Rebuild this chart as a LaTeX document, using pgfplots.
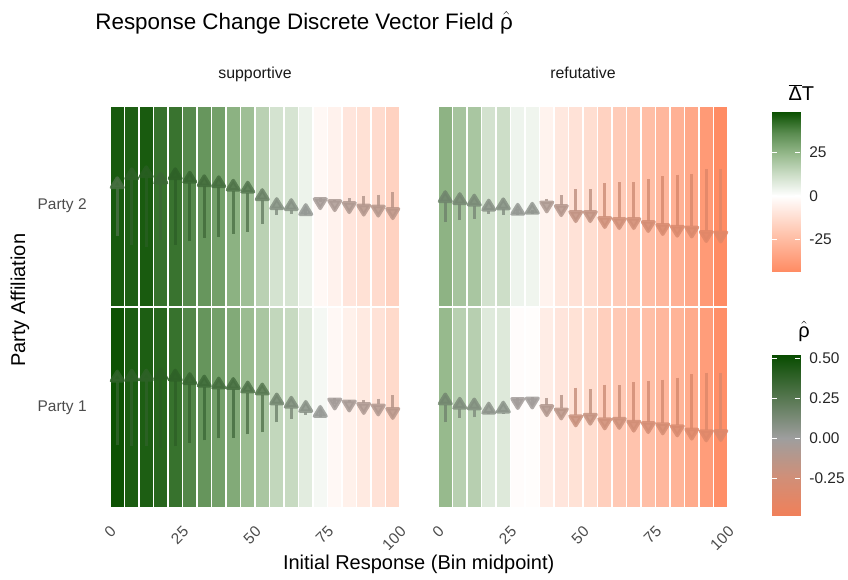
\documentclass[border=0pt]{standalone}
\usepackage{pgfplots}
\usepackage{pgfplotstable}
\pgfplotsset{compat=1.18}
\usepackage{fontspec}
\setmainfont{Liberation Sans}
\usetikzlibrary{arrows.meta}

\pgfplotsset{
  /pgf/number format/assume math mode=true,
  colormap={dtmap}{rgb255(0pt)=(255,140,100); rgb255(22pt)=(255,198,176); rgb255(43pt)=(255,255,255); rgb255(55pt)=(205,222,200); rgb255(67pt)=(150,185,140); rgb255(79pt)=(90,140,80); rgb255(91pt)=(10,80,0)},
  colormap={rhomap}{rgb255(0pt)=(240,128,90); rgb255(24pt)=(208,143,120); rgb255(48pt)=(158,158,158); rgb255(74pt)=(84,118,78); rgb255(100pt)=(8,76,0)},
  frame/.style={scale only axis, width=217.5pt, height=149.3pt,
    xmin=0, xmax=100, ymin=-0.5, ymax=0.5, clip=false},
  panel/.style={frame,
    axis line style={draw=none}, major tick length=0pt,
    xtick={0,25,50,75,100}, ytick={0},
    tick label style={font=\fontsize{11.6}{13}\selectfont, text=black!70},
    yticklabel style={xshift=-14pt},
    xticklabel style={anchor=north east, xshift=-0.5pt, yshift=-8.7pt, rotate=45},
    clip marker paths=true,
    colormap name=dtmap, point meta min=-43, point meta max=48,
  },
  arrowpanel/.style={frame, hide axis, colormap name=rhomap, point meta min=-0.48, point meta max=0.52},
  strip/.style={title style={font=\fontsize{11.9}{13}\selectfont, text=black!90, anchor=base, at={(0.5,1)}, yshift=14.7pt}},
  tiles/.style={scatter, only marks, mark=tile, point meta=explicit, scatter/use mapped color={draw=none, fill=mapped color}},
  arrowsrho/.style={point meta=explicit, quiver={u=0, v=\thisrow{rho}, colored=mapped color,
      every arrow/.append style={line width=2.6pt, draw opacity=0.85, fill opacity=0.85, -{Triangle[width=12.5pt,length=11pt,round]}}}},
  cbar/.style={scale only axis, width=21pt, xmin=0, xmax=1, axis on top,
    axis line style={draw=none}, xtick=\empty, ytick pos=both, yticklabel pos=right, tick align=inside,
    major tick length=3.5pt, ytick style={draw=white, line width=0.6pt},
    yticklabel style={font=\fontsize{11.6}{13}\selectfont, text=black!85, anchor=west, xshift=3.5pt}},
}
\pgfdeclareplotmark{tile}{\pgfpathrectangle{\pgfpoint{-4.95pt}{-74.65pt}}{\pgfpoint{9.9pt}{149.3pt}}\pgfusepathqfill}

% columns: bin midpoint, mean change (Delta T), rho
\pgfplotstableread{
x dt rho
2.5 46 0.30
7.5 45 0.39
12.5 45.8 0.41
17.5 41.2 0.345
22.5 41 0.39
27.5 36.4 0.355
32.5 33.3 0.32
37.5 30.7 0.31
42.5 25.9 0.275
47.5 22 0.255
52.5 16.2 0.18
57.5 10.2 0.09
62.5 9.8 0.08
67.5 4.4 0.03
72.5 -2.6 -0.04
77.5 -4.9 -0.06
82.5 -9.4 -0.08
87.5 -11.2 -0.105
92.5 -13.1 -0.115
97.5 -16.5 -0.14
}\supTwo
\pgfplotstableread{
x dt rho
2.5 47.6 0.38
7.5 45.4 0.39
12.5 45.2 0.39
17.5 43.6 0.405
22.5 41.2 0.39
27.5 37 0.355
32.5 33.6 0.33
37.5 30.7 0.31
42.5 28 0.305
47.5 23 0.27
52.5 19.8 0.25
57.5 14.3 0.15
62.5 13.3 0.117
67.5 6.9 0.075
72.5 2.5 0.025
77.5 -2.6 -0.03
82.5 -5.2 -0.05
87.5 -7.9 -0.075
92.5 -10.5 -0.09
97.5 -13.8 -0.125
}\supOne
\pgfplotstableread{
x dt rho
2.5 25.6 0.16
7.5 20.4 0.14
12.5 19.8 0.125
17.5 10.5 0.075
22.5 12 0.088
27.5 4 0.033
32.5 3.6 0.043
37.5 -4.5 -0.073
42.5 -8.6 -0.11
47.5 -10.5 -0.17
52.5 -12.3 -0.17
57.5 -16.5 -0.23
62.5 -18.7 -0.24
67.5 -20.6 -0.24
72.5 -23.9 -0.27
77.5 -26.6 -0.30
82.5 -28.8 -0.317
87.5 -32.2 -0.325
92.5 -37.8 -0.37
97.5 -43 -0.375
}\refTwo
\pgfplotstableread{
x dt rho
2.5 23.7 0.15
7.5 16.5 0.107
12.5 16.8 0.10
17.5 7.6 0.058
22.5 8 0.068
27.5 -1.1 -0.025
32.5 -0.8 -0.02
37.5 -6.7 -0.097
42.5 -9.4 -0.13
47.5 -10.8 -0.2
52.5 -12.7 -0.183
57.5 -17.6 -0.23
62.5 -19.8 -0.225
67.5 -22 -0.253
72.5 -23.6 -0.267
77.5 -26.6 -0.28
82.5 -28 -0.30
87.5 -31.4 -0.333
92.5 -36.7 -0.35
97.5 -41.9 -0.347
}\refOne

\begin{document}
\begin{tikzpicture}
\useasboundingbox (0,0) rectangle (636pt,434.25pt);

% supportive, Party 2
\begin{axis}[panel, strip, at={(82.5pt,205pt)}, anchor=south west, xticklabels={}, yticklabels={Party 2}, title={supportive}]
\addplot[tiles] table[x=x, y expr=0, meta=dt] {\supTwo};
\end{axis}
\begin{axis}[arrowpanel, at={(82.5pt,205pt)}, anchor=south west]
\addplot[arrowsrho] table[x=x, y expr=-0.5*\thisrow{rho}, meta=rho] {\supTwo};
\end{axis}
% refutative, Party 2
\begin{axis}[panel, strip, at={(328.5pt,205pt)}, anchor=south west, xticklabels={}, yticklabels={}, title={refutative}]
\addplot[tiles] table[x=x, y expr=0, meta=dt] {\refTwo};
\end{axis}
\begin{axis}[arrowpanel, at={(328.5pt,205pt)}, anchor=south west]
\addplot[arrowsrho] table[x=x, y expr=-0.5*\thisrow{rho}, meta=rho] {\refTwo};
\end{axis}
% supportive, Party 1
\begin{axis}[panel, at={(82.5pt,54pt)}, anchor=south west, yticklabels={Party 1}]
\addplot[tiles] table[x=x, y expr=0, meta=dt] {\supOne};
\end{axis}
\begin{axis}[arrowpanel, at={(82.5pt,54pt)}, anchor=south west]
\addplot[arrowsrho] table[x=x, y expr=-0.5*\thisrow{rho}, meta=rho] {\supOne};
\end{axis}
% refutative, Party 1
\begin{axis}[panel, at={(328.5pt,54pt)}, anchor=south west, yticklabels={}]
\addplot[tiles] table[x=x, y expr=0, meta=dt] {\refOne};
\end{axis}
\begin{axis}[arrowpanel, at={(328.5pt,54pt)}, anchor=south west]
\addplot[arrowsrho] table[x=x, y expr=-0.5*\thisrow{rho}, meta=rho] {\refOne};
\end{axis}

% colour bar: Delta T
\begin{axis}[cbar, at={(579pt,231pt)}, anchor=south west, height=119.25pt,
  ymin=-43, ymax=48, ytick={-25,0,25}, colormap name=dtmap, point meta min=-43, point meta max=48]
\addplot[patch, shader=interp, point meta=y] coordinates {(0,-43) (1,-43) (1,48) (0,-43) (1,48) (0,48)};
\end{axis}
% colour bar: rho
\begin{axis}[cbar, at={(579pt,48pt)}, anchor=south west, height=120pt,
  ymin=-0.48, ymax=0.52, ytick={-0.25,0,0.25,0.5}, colormap name=rhomap, point meta min=-0.48, point meta max=0.52,
  yticklabel style={/pgf/number format/.cd, fixed, fixed zerofill, precision=2}]
\addplot[patch, shader=interp, point meta=y] coordinates {(0,-0.48) (1,-0.48) (1,0.52) (0,-0.48) (1,0.52) (0,0.52)};
\end{axis}

\node[anchor=base west, font=\fontsize{16.8}{19}\selectfont] at (68pt,411.75pt) {Response Change Discrete Vector Field $\hat{\mbox{ρ}}$};
\node[anchor=base, font=\fontsize{15}{17}\selectfont] at (601pt,358.5pt) {$\overline{\mbox{Δ}}$T};
\node[anchor=base, font=\fontsize{15}{17}\selectfont] at (603pt,181.5pt) {$\hat{\mbox{ρ}}$};
\node[rotate=90, font=\fontsize{15}{17}\selectfont] at (15pt,209pt) {Party Affiliation};
\node[anchor=base, font=\fontsize{15}{17}\selectfont] at (314pt,7.5pt) {Initial Response (Bin midpoint)};
\end{tikzpicture}
\end{document}
